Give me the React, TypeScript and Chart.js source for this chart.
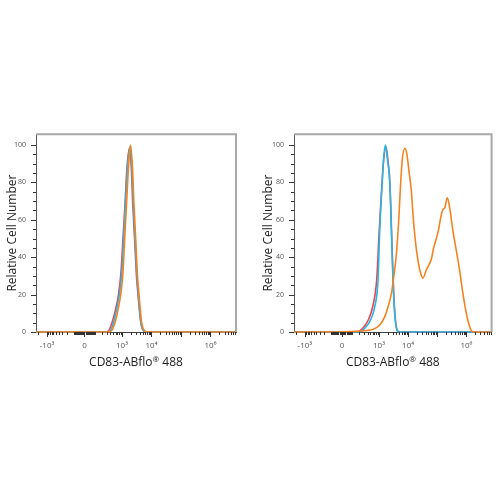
import React, { useEffect, useRef } from 'react';
import { Chart, registerables, LinearScale } from 'chart.js';

// ---------- axis constants (raw fluorescence units) ----------
const X_MIN = -2366;
const X_MAX = 7350000;
const BIEX_W = 107.4;

const xMajorTicks = [-1000, 0, 1000, 10000, 100000, 1000000];
const xTickLabels = ['-10³', '0', '10³', '10⁴', '', '10⁶'];
const yMinorStep = 5;
const yMajorTicks = [0, 20, 40, 60, 80, 100];
const yTickLabels = ['0', '20', '40', '60', '80', '100'];
const Y_MAX = 105.8;

const X_TITLE_MAIN = 'CD83-ABflo';
const X_TITLE_MARK = '®';
const X_TITLE_END = ' 488';
const Y_TITLE = 'Relative Cell Number';

// ---------- data: left panel ----------
const leftOrangeX = [-2366, 0, 300, 418, 576, 730, 902, 1081, 1235, 1422, 1663, 1944, 2273, 2555, 2919, 3362, 3780, 4661, 6036, 8248, 7350000];
const leftOrangeY = [0, 0, 0, 0.5, 5, 12, 20, 32, 50, 68, 88, 100, 88, 68, 50, 30, 20, 5, 0.5, 0, 0];
const leftCyanX = [-2366, 0, 280, 386, 510, 649, 809, 984, 1134, 1305, 1538, 1842, 2153, 2421, 2765, 3207, 3604, 4418, 5585, 7500, 7350000];
const leftCyanY = [0, 0, 0, 0.5, 5, 12, 20, 32, 50, 68, 88, 99, 88, 68, 50, 30, 20, 5, 0.5, 0, 0];
const leftRedX = [-2366, 0, 250, 341, 453, 599, 759, 925, 1081, 1265, 1479, 1771, 2072, 2329, 2679, 3108, 3495, 4350, 5585, 7500, 7350000];
const leftRedY = [0, 0, 0, 0.5, 5, 12, 20, 32, 50, 68, 88, 98, 88, 68, 50, 30, 20, 5, 0.5, 0, 0];

// ---------- data: right panel ----------
const rightCyanX = [-2366, 0, 206, 316, 476, 712, 926, 1060, 1241, 1432, 1665, 1965, 2340, 2676, 3036, 3474, 4167, 5155, 7350000];
const rightCyanY = [0, 0, 0, 2, 5.5, 13.4, 27.6, 54, 75, 92, 100, 92, 80.6, 54, 27.6, 9.9, 1, 0, 0];
const rightRedX = [-2366, 0, 172, 267, 405, 607, 835, 1019, 1222, 1455, 1746, 2029, 2378, 2717, 3084, 3527, 4232, 5155, 7350000];
const rightRedY = [0, 0, 0, 2, 5.8, 13.5, 28, 54, 75, 92, 99, 92, 80, 54, 27.6, 9.9, 1, 0, 0];
const rightOrangeX = [-2366, 0, 103, 206, 364, 621, 1060, 1575, 2045, 2676, 3211, 3974, 4763, 5451, 6384, 7834, 9177, 10745, 12984, 14740, 17807, 21880, 26442, 32467, 41780, 63040, 75556, 93545, 112100, 131300, 157560, 180150, 222950, 267400, 347100, 453900, 589100, 764200, 999900, 1297900, 1519700, 2086800, 7350000];
const rightOrangeY = [0, 0, 0.3, 0.5, 0.8, 1.4, 3.7, 8.1, 13.4, 20.5, 29.3, 41.7, 59.4, 77, 93, 98.3, 94.8, 86, 75.3, 63, 48.8, 38.2, 32, 28.8, 33, 39, 45, 50, 55, 61, 65.6, 66.3, 71.8, 66.5, 54, 43.5, 32.9, 20.5, 9.9, 2.8, 0.5, 0, 0];

const ORANGE = '#f5821f';
const CYAN = '#22b8e8';
const RED = '#ec4450';

// ---------- biexponential (asinh) scale ----------
const LN10 = Math.log(10);
const fwd = (v: number) => Math.asinh(v / BIEX_W) / LN10;
const inv = (t: number) => BIEX_W * Math.sinh(t * LN10);

class BiexScale extends (LinearScale as any) {
  static id = 'biex';
  static defaults = {};
  determineDataLimits() {
    const o: any = (this as any).options;
    (this as any).min = fwd(o.rawMin);
    (this as any).max = fwd(o.rawMax);
  }
  buildTicks() {
    const o: any = (this as any).options;
    return (o.tickValues as number[]).map((v) => ({ value: v }));
  }
  getPixelForValue(v: number) {
    const s: any = this;
    if (v === null || v === undefined) return NaN;
    return s.getPixelForDecimal((fwd(v) - s.min) / (s.max - s.min));
  }
  getValueForPixel(p: number) {
    const s: any = this;
    return inv(s.min + s.getDecimalForPixel(p) * (s.max - s.min));
  }
}

Chart.register(...registerables, BiexScale as any);

// tick positions for the x axis (majors + minor decade marks)
function buildXTickValues(): number[] {
  const vals = new Set<number>(xMajorTicks);
  for (let n = 1; n <= 6; n++) {
    for (let k = 1; k <= 9; k++) {
      const v = k * Math.pow(10, n);
      if (v <= X_MAX) vals.add(v);
      if (-v >= X_MIN) vals.add(-v);
    }
  }
  return Array.from(vals).sort((a, b) => a - b);
}
const xTickValues = buildXTickValues();
const yTickValues: number[] = [];
for (let v = 0; v <= 100; v += yMinorStep) yTickValues.push(v);

const axisDecor = {
  id: 'axisDecor',
  afterDraw(chart: any) {
    const { ctx, chartArea: a, scales } = chart;
    ctx.save();
    ctx.strokeStyle = '#a8a8a8';
    ctx.lineWidth = 2;
    ctx.beginPath();
    ctx.moveTo(a.left, a.top);
    ctx.lineTo(a.right, a.top);
    ctx.lineTo(a.right, a.bottom);
    ctx.stroke();
    ctx.strokeStyle = '#333';
    ctx.lineWidth = 1;
    const xs = scales.x;
    for (const t of xs.ticks) {
      const px = Math.round(xs.getPixelForValue(t.value)) + 0.5;
      const len = xMajorTicks.includes(t.value) ? 5 : 3;
      ctx.beginPath();
      ctx.moveTo(px, a.bottom);
      ctx.lineTo(px, a.bottom + len);
      ctx.stroke();
    }
    const ys = scales.y;
    for (const t of ys.ticks) {
      const py = Math.round(ys.getPixelForValue(t.value)) + 0.5;
      const len = yMajorTicks.includes(t.value) ? 5 : 3;
      ctx.beginPath();
      ctx.moveTo(a.left, py);
      ctx.lineTo(a.left - len, py);
      ctx.stroke();
    }
    // x-axis title with a small raised registered mark
    const big = '12px "Open Sans"';
    const small = '8px "Open Sans"';
    ctx.fillStyle = '#222';
    ctx.textBaseline = 'alphabetic';
    ctx.textAlign = 'left';
    ctx.font = big;
    const w1 = ctx.measureText(X_TITLE_MAIN).width;
    const w3 = ctx.measureText(X_TITLE_END).width;
    ctx.font = small;
    const w2 = ctx.measureText(X_TITLE_MARK).width;
    const total = w1 + w2 + w3;
    let x0 = (a.left + a.right) / 2 - total / 2;
    const base = a.bottom + 34;
    ctx.font = big;
    ctx.fillText(X_TITLE_MAIN, x0, base);
    x0 += w1;
    ctx.font = small;
    ctx.fillText(X_TITLE_MARK, x0, base - 4);
    x0 += w2;
    ctx.font = big;
    ctx.fillText(X_TITLE_END, x0, base);
    ctx.restore();
  },
};

type Series = { x: number[]; y: number[]; color: string };

function HistPanel(props: { left: number; padRight: number; yAxisWidth: number; yTitlePad: number; series: Series[] }) {
  const ref = useRef<HTMLCanvasElement>(null);
  useEffect(() => {
    const chart = new Chart(ref.current as HTMLCanvasElement, {
      type: 'line',
      data: {
        datasets: props.series.map((s) => ({
          data: s.x.map((x, i) => ({ x, y: s.y[i] })),
          borderColor: s.color,
          backgroundColor: s.color,
          borderWidth: 1.6,
          pointRadius: 0,
          fill: false,
          cubicInterpolationMode: 'monotone',
          clip: { left: 0, top: 0, right: 0, bottom: 3 },
        })) as any,
      },
      options: {
        animation: false,
        responsive: false,
        devicePixelRatio: 1,
        layout: { padding: { left: 0, top: 13, right: props.padRight, bottom: 0 } },
        plugins: { legend: { display: false }, tooltip: { enabled: false } },
        scales: {
          x: {
            type: 'biex' as any,
            rawMin: X_MIN,
            rawMax: X_MAX,
            tickValues: xTickValues,
            grid: { display: false, drawTicks: false },
            border: { display: true, color: '#444', width: 1 },
            ticks: {
              autoSkip: false,
              maxRotation: 0,
              minRotation: 0,
              padding: 9,
              color: '#555',
              font: { family: 'Open Sans', size: 8 },
              callback: (v: any) => {
                const i = xMajorTicks.indexOf(Number(v));
                return i >= 0 ? xTickLabels[i] : '';
              },
            },
            title: { display: false },
            afterFit: (s: any) => {
              s.height = 48;
            },
          } as any,
          y: {
            type: 'linear',
            min: 0,
            max: Y_MAX,
            grid: { display: false, drawTicks: false },
            border: { display: true, color: '#555', width: 1 },
            afterBuildTicks: (s: any) => {
              s.ticks = yTickValues.map((v) => ({ value: v }));
            },
            ticks: {
              autoSkip: false,
              padding: 10,
              color: '#555',
              font: { family: 'Open Sans', size: 7 },
              callback: (v: any) => {
                const i = yMajorTicks.indexOf(Number(v));
                return i >= 0 ? yTickLabels[i] : '';
              },
            },
            title: {
              display: true,
              text: Y_TITLE,
              color: '#222',
              font: { family: 'Open Sans', size: 12 },
              padding: { top: props.yTitlePad, bottom: 0 },
            },
            afterFit: (s: any) => {
              s.width = props.yAxisWidth;
            },
          },
        },
      },
      plugins: [axisDecor],
    });
    return () => chart.destroy();
  }, []);
  return (
    <canvas
      ref={ref}
      width={250}
      height={260}
      style={{ position: 'absolute', left: props.left, top: 120, width: 250, height: 260 }}
    />
  );
}

export default function App() {
  const leftSeries: Series[] = [
    { x: leftOrangeX, y: leftOrangeY, color: ORANGE },
    { x: leftCyanX, y: leftCyanY, color: CYAN },
    { x: leftRedX, y: leftRedY, color: RED },
  ];
  const rightSeries: Series[] = [
    { x: rightOrangeX, y: rightOrangeY, color: ORANGE },
    { x: rightCyanX, y: rightCyanY, color: CYAN },
    { x: rightRedX, y: rightRedY, color: RED },
  ];
  return (
    <div style={{ position: 'absolute', left: 0, top: 0, width: 500, height: 500, background: '#fff' }}>
      <HistPanel left={0} padRight={14} yAxisWidth={36} yTitlePad={5} series={leftSeries} />
      <HistPanel left={250} padRight={8} yAxisWidth={44} yTitlePad={11} series={rightSeries} />
    </div>
  );
}
